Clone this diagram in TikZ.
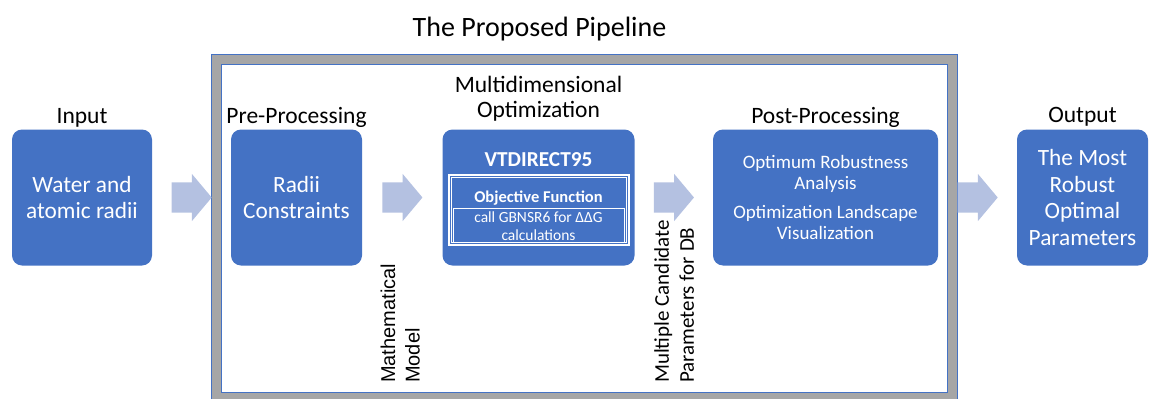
\documentclass[tikz,border=0pt]{standalone}
\usepackage{fontspec}
\setmainfont{Carlito}
\newfontfamily\arialfont{Liberation Sans}
\usetikzlibrary{shapes.arrows,calc}
\definecolor{boxblue}{HTML}{4472C4}
\definecolor{arrowfill}{HTML}{B4C1E1}
\definecolor{bandgray}{HTML}{A6A6A6}
\begin{document}
\begin{tikzpicture}[x=1pt,y=-1pt,
  stage/.style={rectangle, rounded corners=10pt, fill=boxblue, text=white,
    align=center, minimum height=136pt, inner sep=0pt},
  bigtext/.style={font=\fontsize{23.3}{26.5}\selectfont},
  heading/.style={font=\fontsize{23.5}{24.5}\selectfont, anchor=base, inner sep=0pt},
  flow/.style={single arrow, fill=arrowfill, draw=none, minimum height=40pt,
    minimum width=0pt, inner xsep=0pt, inner ysep=15pt,
    single arrow head extend=8.5pt, single arrow tip angle=100, anchor=tail},
  sidelabel/.style={rotate=90, anchor=north west, align=left, inner sep=0pt},
  whitetext/.style={text=white, inner sep=0pt},
]
\useasboundingbox (0,0) rectangle (1149,399);

% pipeline frame: grey band with thin blue edges
\filldraw[fill=bandgray, draw=boxblue, line width=0.8pt] (211,54) rectangle (957,406);
\filldraw[fill=white, draw=boxblue, line width=0.8pt] (221,64) rectangle (947,392);

% title
\node[font=\fontsize{28}{30}\selectfont, anchor=base, inner sep=0pt] (title) at (539.5,36) {The Proposed Pipeline};

% stage boxes
\node[stage, bigtext, minimum width=140pt] (inp) at (82,197.5) {Water and\\atomic radii};
\node[stage, bigtext, minimum width=131pt] (pre) at (296.5,197.5) {Radii\\Constraints};
\node[stage, minimum width=192pt] (opt) at (538.5,197.5) {};
\node[stage, font=\fontsize{19}{21}\selectfont, minimum width=225pt] (post) at (825.5,197.5)
  {Optimum Robustness\\Analysis\\[8pt]Optimization Landscape\\Visualization};
\node[stage, bigtext, minimum width=131pt] (out) at (1082.5,197.5) {The Most\\Robust\\Optimal\\Parameters};

% stage headings
\node[heading] (inlab) at (82,123) {Input};
\node[heading] (prelab) at (296.5,123) {Pre-Processing};
\node[heading] (optlab1) at (538.5,92.7) {Multidimensional};
\node[heading] (optlab2) at (538.5,117) {Optimization};
\node[heading] (postlab) at (825.5,123) {Post-Processing};
\node[heading] (outlab) at (1082.5,122) {Output};

% optimizer contents
\node[whitetext, font=\bfseries\fontsize{21.3}{22}\selectfont] (vt) at (538.5,159.5) {VTDIRECT95};
\draw[white, line width=2pt] (448.8,174.5) rectangle (628.5,244.8);
\draw[white, line width=0.6pt] (451.3,177) rectangle (626,242.5);
\draw[white, line width=0.9pt] (453,208) rectangle (624.5,242.5);
\node[whitetext, font=\bfseries\fontsize{16.5}{18}\selectfont, anchor=base] (objf) at (538.5,202) {Objective Function};
\node[whitetext, font=\fontsize{15.5}{18.4}\selectfont, align=center] (gb) at (538.5,226) {call GBNSR6 for ΔΔG\\calculations};

% block arrows between stages
\node[flow] (a1) at ($(inp.east)!0.5!(pre.west)+(-20,0)$) {};
\node[flow] (a2) at ($(pre.east)!0.5!(opt.west)+(-20,0)$) {};
\node[flow] (a3) at ($(opt.east)!0.5!(post.west)+(-20,0)$) {};
\node[flow] (a4) at ($(post.east)!0.5!(out.west)+(-20,0)$) {};

% vertical labels under the arrows
\node[sidelabel, font=\arialfont\fontsize{20}{24.5}\selectfont] (mm) at (380.5,383) {Mathematical\\Model};
\node[sidelabel, font=\fontsize{21}{25}\selectfont] (mc) at (654,383) {Multiple Candidate\\Parameters for DB};
\end{tikzpicture}
\end{document}
